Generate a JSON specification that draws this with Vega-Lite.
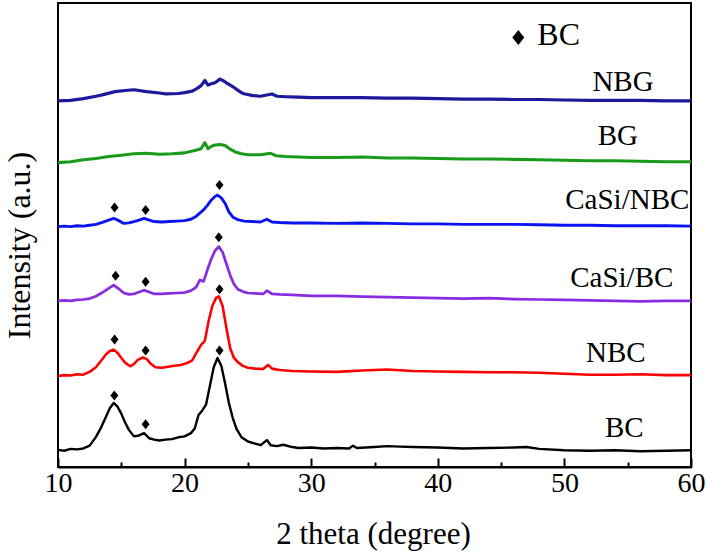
{
  "$schema": "https://vega.github.io/schema/vega-lite/v6.json",
  "width": 633,
  "height": 464,
  "autosize": "none",
  "padding": {"left": 58, "top": 3, "right": 17, "bottom": 84},
  "background": "white",
  "config": {"view": {"stroke": "black", "strokeWidth": 2}, "font": "Liberation Serif"},
  "datasets": {
    "xrd": [
      {"s":"BC","x":10.0,"y":3.7},{"s":"BC","x":10.5,"y":3.5},{"s":"BC","x":11.0,"y":3.9},{"s":"BC","x":11.5,"y":3.8},{"s":"BC","x":12.0,"y":4.0},{"s":"BC","x":12.5,"y":4.6},{"s":"BC","x":13.0,"y":6.5},{"s":"BC","x":13.4,"y":8.5},{"s":"BC","x":13.8,"y":10.9},{"s":"BC","x":14.1,"y":12.7},{"s":"BC","x":14.4,"y":13.8},{"s":"BC","x":14.7,"y":13.0},{"s":"BC","x":15.0,"y":11.5},{"s":"BC","x":15.3,"y":9.6},{"s":"BC","x":15.6,"y":8.0},{"s":"BC","x":16.0,"y":6.6},{"s":"BC","x":16.4,"y":6.8},{"s":"BC","x":16.8,"y":7.3},{"s":"BC","x":17.2,"y":6.2},{"s":"BC","x":17.6,"y":5.9},{"s":"BC","x":18.0,"y":5.7},{"s":"BC","x":18.5,"y":5.9},{"s":"BC","x":19.0,"y":6.0},{"s":"BC","x":19.5,"y":6.4},{"s":"BC","x":20.0,"y":6.6},{"s":"BC","x":20.5,"y":7.3},{"s":"BC","x":20.8,"y":8.3},{"s":"BC","x":21.1,"y":11.2},{"s":"BC","x":21.4,"y":12.2},{"s":"BC","x":21.7,"y":13.5},{"s":"BC","x":22.0,"y":17.5},{"s":"BC","x":22.3,"y":21.5},{"s":"BC","x":22.6,"y":23.5},{"s":"BC","x":22.9,"y":21.8},{"s":"BC","x":23.2,"y":18.0},{"s":"BC","x":23.5,"y":13.8},{"s":"BC","x":23.8,"y":10.6},{"s":"BC","x":24.1,"y":8.2},{"s":"BC","x":24.5,"y":6.4},{"s":"BC","x":25.0,"y":5.5},{"s":"BC","x":25.5,"y":5.1},{"s":"BC","x":26.0,"y":4.7},{"s":"BC","x":26.5,"y":5.8},{"s":"BC","x":26.8,"y":4.7},{"s":"BC","x":27.3,"y":4.5},{"s":"BC","x":27.8,"y":4.8},{"s":"BC","x":28.5,"y":4.3},{"s":"BC","x":29.0,"y":4.1},{"s":"BC","x":30.0,"y":4.2},{"s":"BC","x":31.0,"y":4.0},{"s":"BC","x":32.0,"y":4.1},{"s":"BC","x":33.0,"y":4.0},{"s":"BC","x":33.3,"y":4.6},{"s":"BC","x":33.6,"y":4.1},{"s":"BC","x":35.0,"y":4.3},{"s":"BC","x":36.0,"y":4.5},{"s":"BC","x":37.0,"y":4.4},{"s":"BC","x":38.0,"y":4.3},{"s":"BC","x":40.0,"y":4.2},{"s":"BC","x":42.0,"y":4.0},{"s":"BC","x":44.0,"y":4.1},{"s":"BC","x":46.0,"y":4.2},{"s":"BC","x":47.0,"y":4.3},{"s":"BC","x":48.0,"y":3.9},{"s":"BC","x":50.0,"y":3.6},{"s":"BC","x":52.0,"y":3.5},{"s":"BC","x":54.0,"y":3.6},{"s":"BC","x":56.0,"y":3.4},{"s":"BC","x":58.0,"y":3.5},{"s":"BC","x":60.0,"y":3.6},

      {"s":"NBC","x":10.0,"y":19.6},{"s":"NBC","x":10.5,"y":19.8},{"s":"NBC","x":11.0,"y":19.7},{"s":"NBC","x":11.5,"y":20.0},{"s":"NBC","x":12.0,"y":19.9},{"s":"NBC","x":12.5,"y":20.5},{"s":"NBC","x":13.0,"y":21.5},{"s":"NBC","x":13.4,"y":22.9},{"s":"NBC","x":13.8,"y":24.3},{"s":"NBC","x":14.1,"y":25.0},{"s":"NBC","x":14.4,"y":25.3},{"s":"NBC","x":14.7,"y":24.6},{"s":"NBC","x":15.0,"y":23.5},{"s":"NBC","x":15.3,"y":22.5},{"s":"NBC","x":15.7,"y":21.7},{"s":"NBC","x":16.0,"y":22.2},{"s":"NBC","x":16.3,"y":23.1},{"s":"NBC","x":16.7,"y":23.6},{"s":"NBC","x":17.0,"y":23.3},{"s":"NBC","x":17.3,"y":22.3},{"s":"NBC","x":17.7,"y":21.5},{"s":"NBC","x":18.2,"y":21.4},{"s":"NBC","x":18.7,"y":21.6},{"s":"NBC","x":19.2,"y":21.8},{"s":"NBC","x":19.7,"y":22.0},{"s":"NBC","x":20.2,"y":22.4},{"s":"NBC","x":20.6,"y":23.0},{"s":"NBC","x":21.0,"y":24.9},{"s":"NBC","x":21.3,"y":26.3},{"s":"NBC","x":21.6,"y":27.2},{"s":"NBC","x":21.9,"y":31.5},{"s":"NBC","x":22.2,"y":34.8},{"s":"NBC","x":22.5,"y":36.5},{"s":"NBC","x":22.7,"y":36.8},{"s":"NBC","x":23.0,"y":34.7},{"s":"NBC","x":23.3,"y":30.0},{"s":"NBC","x":23.6,"y":25.6},{"s":"NBC","x":23.9,"y":23.5},{"s":"NBC","x":24.2,"y":22.6},{"s":"NBC","x":24.6,"y":21.8},{"s":"NBC","x":25.0,"y":21.4},{"s":"NBC","x":25.6,"y":21.2},{"s":"NBC","x":26.2,"y":21.1},{"s":"NBC","x":26.6,"y":22.0},{"s":"NBC","x":26.9,"y":21.2},{"s":"NBC","x":27.5,"y":20.9},{"s":"NBC","x":28.5,"y":20.7},{"s":"NBC","x":30.0,"y":20.6},{"s":"NBC","x":32.0,"y":20.5},{"s":"NBC","x":34.0,"y":20.8},{"s":"NBC","x":35.0,"y":20.9},{"s":"NBC","x":36.0,"y":21.0},{"s":"NBC","x":38.0,"y":20.7},{"s":"NBC","x":40.0,"y":20.6},{"s":"NBC","x":42.0,"y":20.5},{"s":"NBC","x":44.0,"y":20.4},{"s":"NBC","x":46.0,"y":20.4},{"s":"NBC","x":48.0,"y":20.3},{"s":"NBC","x":50.0,"y":20.1},{"s":"NBC","x":52.0,"y":19.9},{"s":"NBC","x":54.0,"y":19.9},{"s":"NBC","x":56.0,"y":20.0},{"s":"NBC","x":58.0,"y":19.8},{"s":"NBC","x":60.0,"y":19.8},

      {"s":"CaSi/BC","x":10.0,"y":35.8},{"s":"CaSi/BC","x":10.5,"y":35.9},{"s":"CaSi/BC","x":11.0,"y":35.8},{"s":"CaSi/BC","x":11.5,"y":36.0},{"s":"CaSi/BC","x":12.0,"y":36.1},{"s":"CaSi/BC","x":12.5,"y":36.3},{"s":"CaSi/BC","x":13.0,"y":36.8},{"s":"CaSi/BC","x":13.5,"y":37.6},{"s":"CaSi/BC","x":14.0,"y":38.5},{"s":"CaSi/BC","x":14.4,"y":39.2},{"s":"CaSi/BC","x":14.8,"y":38.4},{"s":"CaSi/BC","x":15.2,"y":37.5},{"s":"CaSi/BC","x":15.6,"y":37.2},{"s":"CaSi/BC","x":16.0,"y":37.3},{"s":"CaSi/BC","x":16.4,"y":37.7},{"s":"CaSi/BC","x":16.8,"y":38.1},{"s":"CaSi/BC","x":17.2,"y":37.7},{"s":"CaSi/BC","x":17.6,"y":37.3},{"s":"CaSi/BC","x":18.2,"y":37.3},{"s":"CaSi/BC","x":18.8,"y":37.4},{"s":"CaSi/BC","x":19.4,"y":37.5},{"s":"CaSi/BC","x":20.0,"y":37.6},{"s":"CaSi/BC","x":20.5,"y":38.0},{"s":"CaSi/BC","x":20.9,"y":38.7},{"s":"CaSi/BC","x":21.2,"y":40.3},{"s":"CaSi/BC","x":21.5,"y":40.0},{"s":"CaSi/BC","x":21.8,"y":42.5},{"s":"CaSi/BC","x":22.1,"y":44.8},{"s":"CaSi/BC","x":22.4,"y":46.6},{"s":"CaSi/BC","x":22.7,"y":47.5},{"s":"CaSi/BC","x":23.0,"y":46.3},{"s":"CaSi/BC","x":23.3,"y":43.8},{"s":"CaSi/BC","x":23.6,"y":41.3},{"s":"CaSi/BC","x":23.9,"y":39.4},{"s":"CaSi/BC","x":24.2,"y":38.3},{"s":"CaSi/BC","x":24.6,"y":37.8},{"s":"CaSi/BC","x":25.0,"y":37.5},{"s":"CaSi/BC","x":25.6,"y":37.4},{"s":"CaSi/BC","x":26.2,"y":37.3},{"s":"CaSi/BC","x":26.5,"y":38.0},{"s":"CaSi/BC","x":26.9,"y":37.3},{"s":"CaSi/BC","x":27.5,"y":37.2},{"s":"CaSi/BC","x":28.5,"y":37.1},{"s":"CaSi/BC","x":30.0,"y":36.9},{"s":"CaSi/BC","x":32.0,"y":36.9},{"s":"CaSi/BC","x":34.0,"y":36.7},{"s":"CaSi/BC","x":36.0,"y":36.6},{"s":"CaSi/BC","x":38.0,"y":36.5},{"s":"CaSi/BC","x":40.0,"y":36.4},{"s":"CaSi/BC","x":42.0,"y":36.3},{"s":"CaSi/BC","x":44.0,"y":36.4},{"s":"CaSi/BC","x":46.0,"y":36.2},{"s":"CaSi/BC","x":48.0,"y":36.1},{"s":"CaSi/BC","x":50.0,"y":36.0},{"s":"CaSi/BC","x":52.0,"y":35.9},{"s":"CaSi/BC","x":54.0,"y":35.8},{"s":"CaSi/BC","x":56.0,"y":35.7},{"s":"CaSi/BC","x":58.0,"y":35.8},{"s":"CaSi/BC","x":60.0,"y":35.8},

      {"s":"CaSi/NBC","x":10.0,"y":51.8},{"s":"CaSi/NBC","x":10.5,"y":51.9},{"s":"CaSi/NBC","x":11.0,"y":51.8},{"s":"CaSi/NBC","x":11.5,"y":52.0},{"s":"CaSi/NBC","x":12.0,"y":51.9},{"s":"CaSi/NBC","x":12.5,"y":52.1},{"s":"CaSi/NBC","x":13.0,"y":52.3},{"s":"CaSi/NBC","x":13.5,"y":52.7},{"s":"CaSi/NBC","x":14.0,"y":53.2},{"s":"CaSi/NBC","x":14.4,"y":53.6},{"s":"CaSi/NBC","x":14.8,"y":53.1},{"s":"CaSi/NBC","x":15.2,"y":52.5},{"s":"CaSi/NBC","x":15.6,"y":52.6},{"s":"CaSi/NBC","x":16.0,"y":52.9},{"s":"CaSi/NBC","x":16.4,"y":53.2},{"s":"CaSi/NBC","x":16.8,"y":53.6},{"s":"CaSi/NBC","x":17.2,"y":53.2},{"s":"CaSi/NBC","x":17.6,"y":52.9},{"s":"CaSi/NBC","x":18.2,"y":52.8},{"s":"CaSi/NBC","x":18.8,"y":52.9},{"s":"CaSi/NBC","x":19.4,"y":53.0},{"s":"CaSi/NBC","x":20.0,"y":53.1},{"s":"CaSi/NBC","x":20.5,"y":53.4},{"s":"CaSi/NBC","x":20.9,"y":54.0},{"s":"CaSi/NBC","x":21.2,"y":54.7},{"s":"CaSi/NBC","x":21.5,"y":55.4},{"s":"CaSi/NBC","x":21.8,"y":56.4},{"s":"CaSi/NBC","x":22.1,"y":57.5},{"s":"CaSi/NBC","x":22.4,"y":58.3},{"s":"CaSi/NBC","x":22.6,"y":58.6},{"s":"CaSi/NBC","x":22.9,"y":58.0},{"s":"CaSi/NBC","x":23.2,"y":56.8},{"s":"CaSi/NBC","x":23.5,"y":55.0},{"s":"CaSi/NBC","x":23.8,"y":53.9},{"s":"CaSi/NBC","x":24.2,"y":53.3},{"s":"CaSi/NBC","x":24.7,"y":53.0},{"s":"CaSi/NBC","x":25.3,"y":52.9},{"s":"CaSi/NBC","x":26.0,"y":52.8},{"s":"CaSi/NBC","x":26.5,"y":53.4},{"s":"CaSi/NBC","x":26.9,"y":52.8},{"s":"CaSi/NBC","x":27.5,"y":52.7},{"s":"CaSi/NBC","x":28.5,"y":52.6},{"s":"CaSi/NBC","x":30.0,"y":52.6},{"s":"CaSi/NBC","x":32.0,"y":52.5},{"s":"CaSi/NBC","x":34.0,"y":52.6},{"s":"CaSi/NBC","x":36.0,"y":52.5},{"s":"CaSi/NBC","x":38.0,"y":52.4},{"s":"CaSi/NBC","x":40.0,"y":52.4},{"s":"CaSi/NBC","x":42.0,"y":52.3},{"s":"CaSi/NBC","x":44.0,"y":52.3},{"s":"CaSi/NBC","x":46.0,"y":52.3},{"s":"CaSi/NBC","x":48.0,"y":52.2},{"s":"CaSi/NBC","x":50.0,"y":52.1},{"s":"CaSi/NBC","x":52.0,"y":52.1},{"s":"CaSi/NBC","x":54.0,"y":52.0},{"s":"CaSi/NBC","x":56.0,"y":52.0},{"s":"CaSi/NBC","x":58.0,"y":52.0},{"s":"CaSi/NBC","x":60.0,"y":51.9},

      {"s":"BG","x":10.0,"y":65.6},{"s":"BG","x":11.0,"y":65.8},{"s":"BG","x":12.0,"y":66.2},{"s":"BG","x":13.0,"y":66.5},{"s":"BG","x":14.0,"y":66.9},{"s":"BG","x":15.0,"y":67.2},{"s":"BG","x":16.0,"y":67.5},{"s":"BG","x":17.0,"y":67.6},{"s":"BG","x":18.0,"y":67.4},{"s":"BG","x":19.0,"y":67.5},{"s":"BG","x":20.0,"y":67.7},{"s":"BG","x":20.8,"y":68.2},{"s":"BG","x":21.3,"y":68.6},{"s":"BG","x":21.6,"y":69.9},{"s":"BG","x":21.85,"y":68.6},{"s":"BG","x":22.1,"y":69.1},{"s":"BG","x":22.4,"y":69.4},{"s":"BG","x":22.8,"y":69.5},{"s":"BG","x":23.2,"y":69.3},{"s":"BG","x":23.6,"y":68.5},{"s":"BG","x":24.0,"y":67.9},{"s":"BG","x":24.5,"y":67.5},{"s":"BG","x":25.0,"y":67.3},{"s":"BG","x":26.0,"y":67.3},{"s":"BG","x":26.8,"y":67.6},{"s":"BG","x":27.2,"y":67.1},{"s":"BG","x":28.0,"y":66.9},{"s":"BG","x":29.0,"y":66.8},{"s":"BG","x":30.0,"y":66.7},{"s":"BG","x":32.0,"y":66.7},{"s":"BG","x":34.0,"y":66.8},{"s":"BG","x":36.0,"y":66.6},{"s":"BG","x":38.0,"y":66.6},{"s":"BG","x":40.0,"y":66.5},{"s":"BG","x":42.0,"y":66.4},{"s":"BG","x":44.0,"y":66.4},{"s":"BG","x":46.0,"y":66.3},{"s":"BG","x":48.0,"y":66.2},{"s":"BG","x":50.0,"y":66.1},{"s":"BG","x":52.0,"y":66.0},{"s":"BG","x":54.0,"y":66.0},{"s":"BG","x":56.0,"y":65.9},{"s":"BG","x":58.0,"y":65.8},{"s":"BG","x":60.0,"y":65.8},

      {"s":"NBG","x":10.0,"y":78.9},{"s":"NBG","x":11.0,"y":79.0},{"s":"NBG","x":12.0,"y":79.4},{"s":"NBG","x":13.0,"y":79.9},{"s":"NBG","x":13.5,"y":80.2},{"s":"NBG","x":14.5,"y":80.9},{"s":"NBG","x":15.5,"y":81.2},{"s":"NBG","x":16.0,"y":81.3},{"s":"NBG","x":17.0,"y":80.9},{"s":"NBG","x":18.0,"y":80.6},{"s":"NBG","x":18.5,"y":80.4},{"s":"NBG","x":19.5,"y":80.5},{"s":"NBG","x":20.0,"y":80.7},{"s":"NBG","x":20.6,"y":81.0},{"s":"NBG","x":21.0,"y":81.6},{"s":"NBG","x":21.3,"y":82.2},{"s":"NBG","x":21.6,"y":83.3},{"s":"NBG","x":21.85,"y":82.3},{"s":"NBG","x":22.1,"y":82.6},{"s":"NBG","x":22.4,"y":82.8},{"s":"NBG","x":22.8,"y":83.6},{"s":"NBG","x":23.1,"y":83.2},{"s":"NBG","x":23.4,"y":82.6},{"s":"NBG","x":23.9,"y":81.8},{"s":"NBG","x":24.3,"y":81.0},{"s":"NBG","x":24.6,"y":80.5},{"s":"NBG","x":25.3,"y":80.1},{"s":"NBG","x":26.0,"y":79.9},{"s":"NBG","x":26.9,"y":80.4},{"s":"NBG","x":27.3,"y":79.9},{"s":"NBG","x":28.0,"y":79.8},{"s":"NBG","x":29.0,"y":79.7},{"s":"NBG","x":30.0,"y":79.6},{"s":"NBG","x":32.0,"y":79.6},{"s":"NBG","x":34.0,"y":79.6},{"s":"NBG","x":36.0,"y":79.5},{"s":"NBG","x":38.0,"y":79.5},{"s":"NBG","x":40.0,"y":79.4},{"s":"NBG","x":42.0,"y":79.3},{"s":"NBG","x":44.0,"y":79.3},{"s":"NBG","x":46.0,"y":79.2},{"s":"NBG","x":48.0,"y":79.2},{"s":"NBG","x":50.0,"y":79.1},{"s":"NBG","x":52.0,"y":79.0},{"s":"NBG","x":54.0,"y":79.0},{"s":"NBG","x":56.0,"y":79.0},{"s":"NBG","x":58.0,"y":78.9},{"s":"NBG","x":60.0,"y":78.9}
    ],
    "diamonds": [
      {"x":14.45,"y":15.4},{"x":16.92,"y":9.2},{"x":22.76,"y":25.1},
      {"x":14.47,"y":27.5},{"x":16.92,"y":25.1},{"x":22.76,"y":38.3},
      {"x":14.55,"y":41.2},{"x":16.92,"y":39.9},{"x":22.7,"y":49.5},
      {"x":14.47,"y":55.9},{"x":16.92,"y":55.4},{"x":22.76,"y":60.8}
    ],
    "legend": [{"x":46.36,"y":92.56,"t":"BC","tx":47.86,"ty":90.95}],
    "labels": [
      {"t":"NBG","x":54.63,"y":81.1},
      {"t":"BG","x":54.22,"y":69.4},
      {"t":"CaSi/NBC","x":54.97,"y":55.5},
      {"t":"CaSi/BC","x":54.53,"y":38.9},
      {"t":"NBC","x":54.06,"y":22.6},
      {"t":"BC","x":54.73,"y":6.53}
    ]
  },
  "layer": [
    {
      "data": {"name": "xrd"},
      "mark": {"type": "line", "clip": true, "strokeJoin": "round"},
      "encoding": {
        "x": {
          "field": "x", "type": "quantitative",
          "scale": {"domain": [10, 60], "nice": false, "zero": false},
          "axis": {
            "values": [10, 15, 20, 25, 30, 35, 40, 45, 50, 55, 60],
            "labelExpr": "datum.value % 10 === 0 ? datum.label : ''",
            "tickSize": {"condition": {"test": "datum.value % 10 === 0", "value": -9}, "value": -5},
            "tickColor": "black", "tickWidth": 2,
            "domainColor": "black", "domainWidth": 2,
            "grid": false,
            "labelFont": "Liberation Serif", "labelFontSize": 28, "labelColor": "black",
            "labelBaseline": "alphabetic", "labelPadding": 33, "labelFlush": false,
            "title": "2 theta (degree)",
            "titleFont": "Liberation Serif", "titleFontSize": 31, "titleFontWeight": "normal", "titleColor": "black",
            "titleX": 315, "titleY": 76, "titleBaseline": "alphabetic", "titleAlign": "center"
          }
        },
        "y": {
          "field": "y", "type": "quantitative",
          "scale": {"domain": [0, 100], "nice": false},
          "axis": {
            "title": "Intensity (a.u.)", "labels": false, "ticks": false, "domain": false, "grid": false,
            "titleFont": "Liberation Serif", "titleFontSize": 32, "titleFontWeight": "normal", "titleColor": "black",
            "titleX": -29, "titleY": 242, "titleAngle": -90, "titleBaseline": "alphabetic", "titleAlign": "center"
          }
        },
        "color": {
          "field": "s", "type": "nominal",
          "scale": {"domain": ["BC", "NBC", "CaSi/BC", "CaSi/NBC", "BG", "NBG"],
                    "range": ["#000000", "#ff0000", "#8a2be2", "#0a14f0", "#1a9a1a", "#1a1a9a"]},
          "legend": null
        },
        "strokeWidth": {
          "field": "s", "type": "nominal",
          "scale": {"domain": ["BC", "NBC", "CaSi/BC", "CaSi/NBC", "BG", "NBG"],
                    "range": [2.4, 3.2, 2.6, 3.0, 2.2, 2.2]},
          "legend": null
        }
      }
    },
    {
      "data": {"name": "diamonds"},
      "mark": {"type": "point", "shape": "M0,-1L0.8,0L0,1L-0.8,0Z", "filled": true, "color": "black", "opacity": 1, "size": 100},
      "encoding": {"x": {"field": "x", "type": "quantitative"}, "y": {"field": "y", "type": "quantitative"}}
    },
    {
      "data": {"name": "legend"},
      "mark": {"type": "point", "shape": "M0,-1L0.8,0L0,1L-0.8,0Z", "filled": true, "color": "black", "opacity": 1, "size": 225},
      "encoding": {"x": {"field": "x", "type": "quantitative"}, "y": {"field": "y", "type": "quantitative"}}
    },
    {
      "data": {"name": "legend"},
      "mark": {"type": "text", "align": "left", "baseline": "alphabetic", "font": "Liberation Serif", "fontSize": 32, "color": "black"},
      "encoding": {"x": {"field": "tx", "type": "quantitative"}, "y": {"field": "ty", "type": "quantitative"}, "text": {"field": "t"}}
    },
    {
      "data": {"name": "labels"},
      "mark": {"type": "text", "align": "center", "baseline": "alphabetic", "font": "Liberation Serif", "fontSize": 29, "color": "black"},
      "encoding": {"x": {"field": "x", "type": "quantitative"}, "y": {"field": "y", "type": "quantitative"}, "text": {"field": "t"}}
    }
  ]
}
